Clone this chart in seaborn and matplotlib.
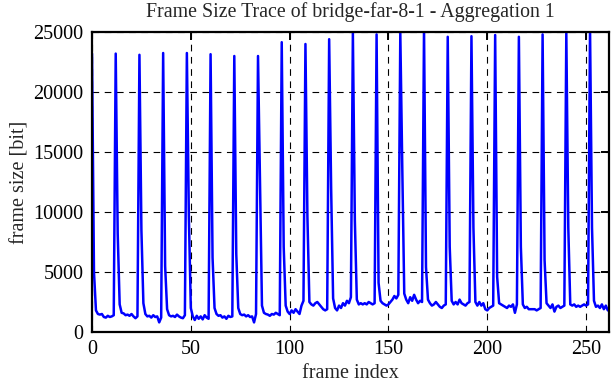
import matplotlib
matplotlib.use("Agg")
import matplotlib.pyplot as plt
import seaborn as sns
import pandas as pd

# ---- data ----
frame_size = [
    23200, 5000, 1800, 1500, 1450, 1500, 1250, 1200, 1350, 1250, 1300, 1400,
    23200, 8200, 2300, 1600, 1550, 1400, 1450, 1350, 1500, 1300, 1150, 1300,
    23100, 8500, 2400, 1500, 1300, 1350, 1200, 1400, 1250, 1300, 800, 1200,
    23250, 5500, 1900, 1400, 1300, 1350, 1250, 1450, 1300, 1200, 1150, 1400,
    23250, 9700, 2000, 1300, 1000, 1350, 1100, 1300, 1050, 1400, 1200, 1100,
    23150, 6200, 2000, 1500, 1350, 1400, 1200, 1300, 1100, 1350, 1250, 1300,
    23000, 6500, 2000, 1500, 1400, 1450, 1300, 1400, 1250, 1300, 800, 1500,
    23000, 12400, 2200, 1600, 1500, 1450, 1350, 1500, 1450, 1600, 1500, 1400,
    24150, 7100, 2200, 1700, 1500, 1800, 1600, 1900, 1700, 1500, 2200, 2600,
    24000, 9600, 2500, 2300, 2200, 2400, 2500, 2300, 2100, 1900, 1800, 1900,
    24400, 12000, 2800, 2000, 1800, 2200, 2000, 2400, 2200, 2600, 2400, 2900,
    24900, 9300, 2700, 2300, 2400, 2300, 2400, 2300, 2500, 2400, 2300, 2400,
    24800, 4100, 2600, 2400, 2300, 2200, 2300, 2500, 2700, 3000, 2800, 3100,
    24900, 13700, 3200, 2700, 2400, 2900, 2600, 3100, 2700, 2400, 2600, 2500,
    25300, 5400, 2700, 2400, 2200, 2300, 2500, 2300, 2100, 2000, 2200, 2300,
    24600, 7100, 2600, 2300, 2500, 2300, 2700, 2400, 2300, 2200, 2400, 2500,
    24650, 8700, 2500, 2200, 2500, 2200, 2400, 1900, 1800, 2000, 2100, 2200,
    24750, 4600, 2400, 2300, 2200, 2100, 2000, 2200, 2100, 2300, 1600, 2300,
    24600, 7100, 2300, 2000, 2100, 1900, 1900, 1900, 1900, 1800, 1900, 2000,
    24800, 6000, 2400, 2200, 2000, 2300, 1700, 2100, 2200, 2000, 2100, 2200,
    24900, 8700, 2300, 2200, 2300, 2100, 2200, 2100, 2200, 2300, 2200, 2300,
    25300, 8700, 2600, 2100, 2200, 2000, 2300, 1900, 2200, 1800,
]
frame_index = list(range(len(frame_size)))

x_ticks = [0, 50, 100, 150, 200, 250]
y_ticks = [0, 5000, 10000, 15000, 20000, 25000]

title = "Frame Size Trace of bridge-far-8-1 - Aggregation 1"
x_label = "frame index"
y_label = "frame size [bit]"

df = pd.DataFrame({"frame index": frame_index, "frame size": frame_size})

sns.set_style("white")
plt.rcParams["font.family"] = ["Liberation Serif", "DejaVu Serif"]

fig = plt.figure(figsize=(6.12, 3.82), dpi=100)
ax = fig.add_axes([92 / 612, 50 / 382, (609 - 92) / 612, 300 / 382])

sns.lineplot(data=df, x="frame index", y="frame size", ax=ax,
             color="#0000ff", linewidth=1.8, zorder=3)

ax.set_xlim(0, 261.6)
ax.set_ylim(0, 25000)
ax.set_xticks(x_ticks)
ax.set_yticks(y_ticks)
ax.set_xticklabels([str(t) for t in x_ticks], fontsize=14.5)
ax.set_yticklabels([str(t) for t in y_ticks], fontsize=14.5)

ax.grid(True, color="black", linestyle=(0, (6, 5)), linewidth=0.8, zorder=1)
ax.tick_params(axis="both", which="both", direction="in", length=6, width=1.4,
               top=True, right=True, colors="black", pad=6)
for sp in ax.spines.values():
    sp.set_linewidth(1.6)
    sp.set_color("black")
    sp.set_zorder(4)

ax.set_xlabel(x_label, fontsize=14.5, labelpad=3)
ax.set_ylabel(y_label, fontsize=14.5, labelpad=3)
fig.text(350 / 612, 1 - 12 / 382, title, fontsize=14.3,
         ha="center", va="center")

fig.savefig("out.png", dpi=100, facecolor="white")
